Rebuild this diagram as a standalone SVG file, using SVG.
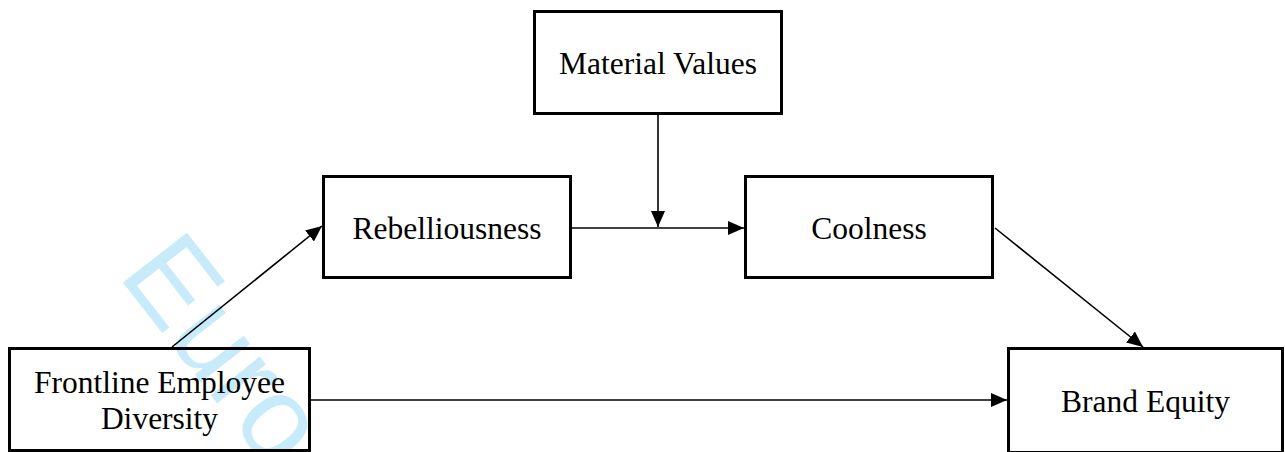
<svg xmlns="http://www.w3.org/2000/svg" width="1285" height="452" viewBox="0 0 1285 452">
  <style>
    .box { fill: none; stroke: #000; stroke-width: 3; }
    .lbl { font-family: "Liberation Serif", "Times New Roman", serif; font-size: 31.5px; fill: #000; text-anchor: middle; }
    .conn { stroke: #000; stroke-width: 1.6; fill: none; marker-end: url(#arrow); }
    .wm { font-family: "Liberation Sans", Arial, sans-serif; font-size: 118px; fill: #c8ebfb; }
  </style>
  <defs>
    <marker id="arrow" markerUnits="userSpaceOnUse" markerWidth="16" markerHeight="14" refX="16" refY="7" orient="auto">
      <path d="M0,0 L16,7 L0,14 Z" fill="#000"/>
    </marker>
  </defs>
  <rect width="1285" height="452" fill="#fff"/>
  <text class="wm" transform="translate(117,275) rotate(52)">Euro</text>

  <g id="connectors">
    <line class="conn" x1="172" y1="347" x2="322" y2="226"/>
    <line class="conn" x1="572" y1="228" x2="744" y2="228"/>
    <line class="conn" x1="658" y1="114" x2="658" y2="227"/>
    <line class="conn" x1="995" y1="228" x2="1143" y2="347"/>
    <line class="conn" x1="311" y1="400" x2="1007" y2="400"/>
  </g>

  <g id="material-values">
    <rect class="box" x="534.5" y="11.5" width="247" height="102"/>
    <text class="lbl" x="658" y="74">Material Values</text>
  </g>
  <g id="rebelliousness">
    <rect class="box" x="323.5" y="176.5" width="247" height="101"/>
    <text class="lbl" x="447" y="239">Rebelliousness</text>
  </g>
  <g id="coolness">
    <rect class="box" x="745.5" y="176.5" width="247" height="101"/>
    <text class="lbl" x="869" y="239">Coolness</text>
  </g>
  <g id="frontline-employee-diversity">
    <rect class="box" x="9.5" y="348.5" width="300" height="102"/>
    <text class="lbl" x="159.5" y="393">Frontline Employee</text>
    <text class="lbl" x="159.5" y="429">Diversity</text>
  </g>
  <g id="brand-equity">
    <rect class="box" x="1008.5" y="348.5" width="274" height="104"/>
    <text class="lbl" x="1145.5" y="412">Brand Equity</text>
  </g>
</svg>
